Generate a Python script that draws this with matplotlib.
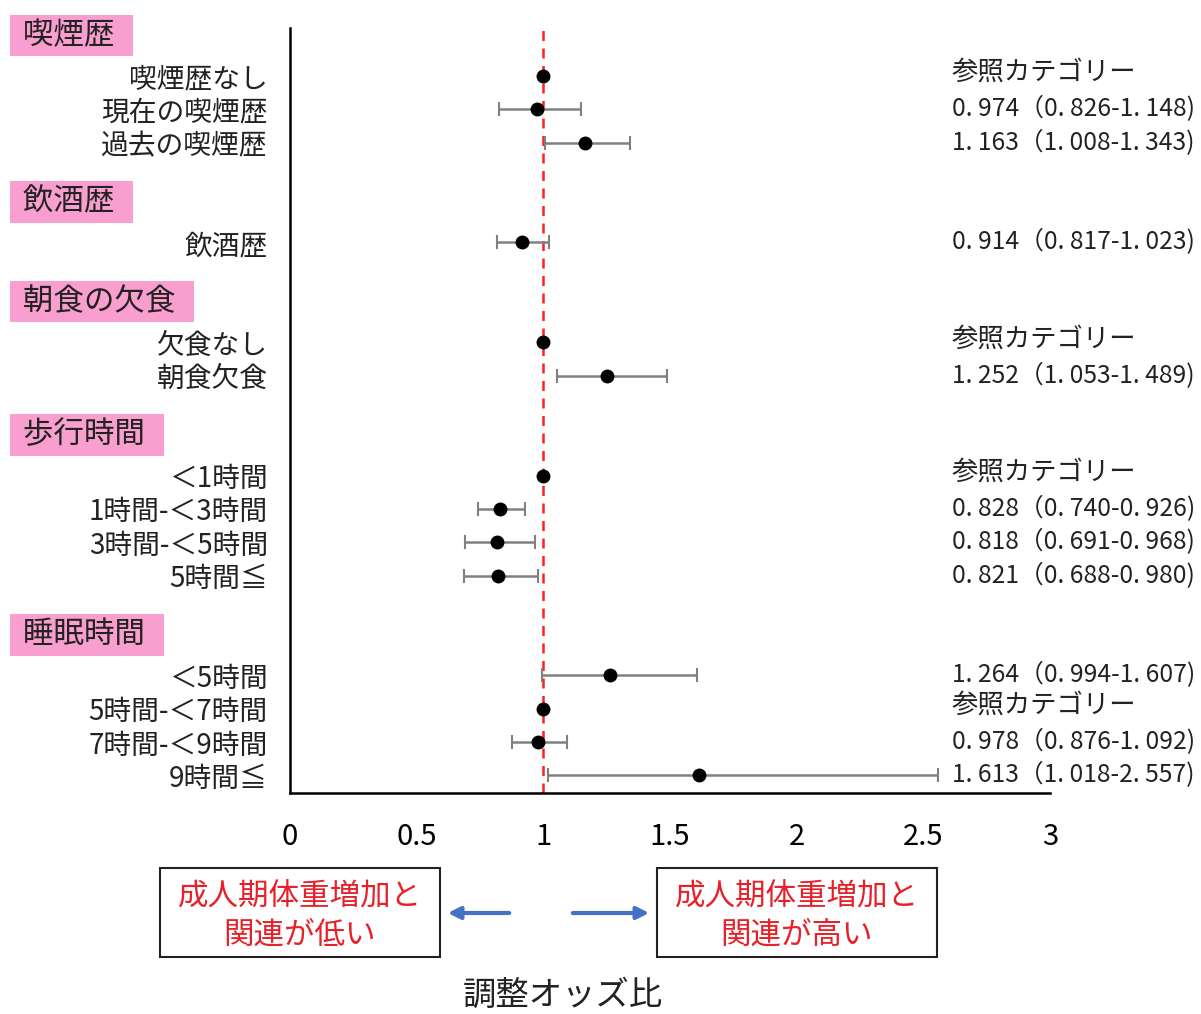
import numpy as np
import matplotlib.pyplot as plt
from matplotlib.patches import Rectangle

plt.rcParams['font.family'] = ['Noto Sans CJK JP', 'DejaVu Sans']

# Data
groups = ['喫煙歴', '飲酒歴', '朝食の欠食', '歩行時間', '睡眠時間']
group_items = [
    ['喫煙歴なし', '現在の喫煙歴', '過去の喫煙歴'],
    ['飲酒歴'],
    ['欠食なし', '朝食欠食'],
    ['＜1時間', '1時間-＜3時間', '3時間-＜5時間', '5時間≦'],
    ['＜5時間', '5時間-＜7時間', '7時間-＜9時間', '9時間≦'],
]
odds = [1.0, 0.974, 1.163, 0.914, 1.0, 1.252, 1.0, 0.828, 0.818, 0.821, 1.264, 1.0, 0.978, 1.613]
ci_low = [None, 0.826, 1.008, 0.817, None, 1.053, None, 0.740, 0.691, 0.688, 0.994, None, 0.876, 1.018]
ci_high = [None, 1.148, 1.343, 1.023, None, 1.489, None, 0.926, 0.968, 0.980, 1.607, None, 1.092, 2.557]
xticks = [0, 0.5, 1, 1.5, 2, 2.5, 3]
xtick_labels = ['0', '0.5', '1', '1.5', '2', '2.5', '3']

# Row positions: each group header, then its items, then a gap
ypos, header_y = [], []
y = 0
for items in group_items:
    header_y.append(y - 1.22)
    for i in range(len(items)):
        ypos.append(y + i)
    y = y + len(items) + 2
labels = [lab for items in group_items for lab in items]

def fmt(v):
    # "0. 974" style spacing as in the reference
    return ('%.3f' % v).replace('.', '. ')

fig = plt.figure(figsize=(12.01, 10.14), dpi=100)
ax = fig.add_axes([0.2415, 0.2179, 0.6328, 0.7545])

# Reference line
ax.axvline(1, color='#ff2020', linestyle=(0, (4, 3)), linewidth=1.8, zorder=1)

for yy, o, lo, hi in zip(ypos, odds, ci_low, ci_high):
    if lo is not None:
        ax.errorbar(o, yy, xerr=[[o - lo], [hi - o]], fmt='none', ecolor='#808080',
                    elinewidth=1.8, capsize=5, capthick=1.5, zorder=2)
    ax.plot(o, yy, 'o', color='black', markersize=9, zorder=3)
    # right-side text
    if lo is None:
        ax.text(0.871, yy - 0.1, '参照カテゴリー', transform=ax.get_yaxis_transform(),
                ha='left', va='center', fontsize=19, color='#222222')
    else:
        txt = '%s（%s-%s)' % (fmt(o), fmt(lo), fmt(hi))
        ax.text(0.871, yy, txt, transform=ax.get_yaxis_transform(), ha='left',
                va='center', fontsize=17.8, color='#222222')

ax.set_xlim(0, 3)
ax.set_ylim(21.53, -1.44)
ax.set_yticks(ypos)
ax.set_yticklabels(labels, fontsize=20, color='#222222')
ax.set_xticks(xticks)
ax.set_xticklabels(xtick_labels, fontsize=21)
ax.tick_params(axis='both', length=0)
ax.tick_params(axis='y', pad=16)
ax.tick_params(axis='x', pad=21)
for s in ['top', 'right']:
    ax.spines[s].set_visible(False)
for s in ['left', 'bottom']:
    ax.spines[s].set_linewidth(1.8)

# Group headers with pink background
for g, hy in zip(groups, header_y):
    ax.text(-0.361, hy, ' ' + g + '  ', transform=ax.get_yaxis_transform(), ha='left',
            va='center', fontsize=22, color='#222222',
            bbox=dict(boxstyle='square,pad=0.17', facecolor='#f99fcf', edgecolor='none'))

# Bottom annotation boxes
W, H = 1201, 1014
for x0, txt in [(160, '成人期体重増加と\n関連が低い'), (657, '成人期体重増加と\n関連が高い')]:
    fig.patches.append(Rectangle((x0 / W, 1 - 957 / H), 280 / W, 89 / H,
                                 transform=fig.transFigure, facecolor='white',
                                 edgecolor='#222222', linewidth=1.5))
    fig.text((x0 + 140) / W, 1 - 916 / H, txt, ha='center', va='center',
             fontsize=22, color='#e8202a', linespacing=1.3)

ax.annotate('', xy=(445 / W, 1 - 913 / H), xytext=(512 / W, 1 - 913 / H),
            xycoords='figure fraction', textcoords='figure fraction',
            arrowprops=dict(arrowstyle='-|>', color='#4472c4', lw=3, mutation_scale=18))
ax.annotate('', xy=(652 / W, 1 - 913 / H), xytext=(570 / W, 1 - 913 / H),
            xycoords='figure fraction', textcoords='figure fraction',
            arrowprops=dict(arrowstyle='-|>', color='#4472c4', lw=3, mutation_scale=18))

fig.text(563 / W, 1 - 995 / H, '調整オッズ比', ha='center', va='center', fontsize=24,
         color='#222222')

fig.savefig('out.png', dpi=100)
